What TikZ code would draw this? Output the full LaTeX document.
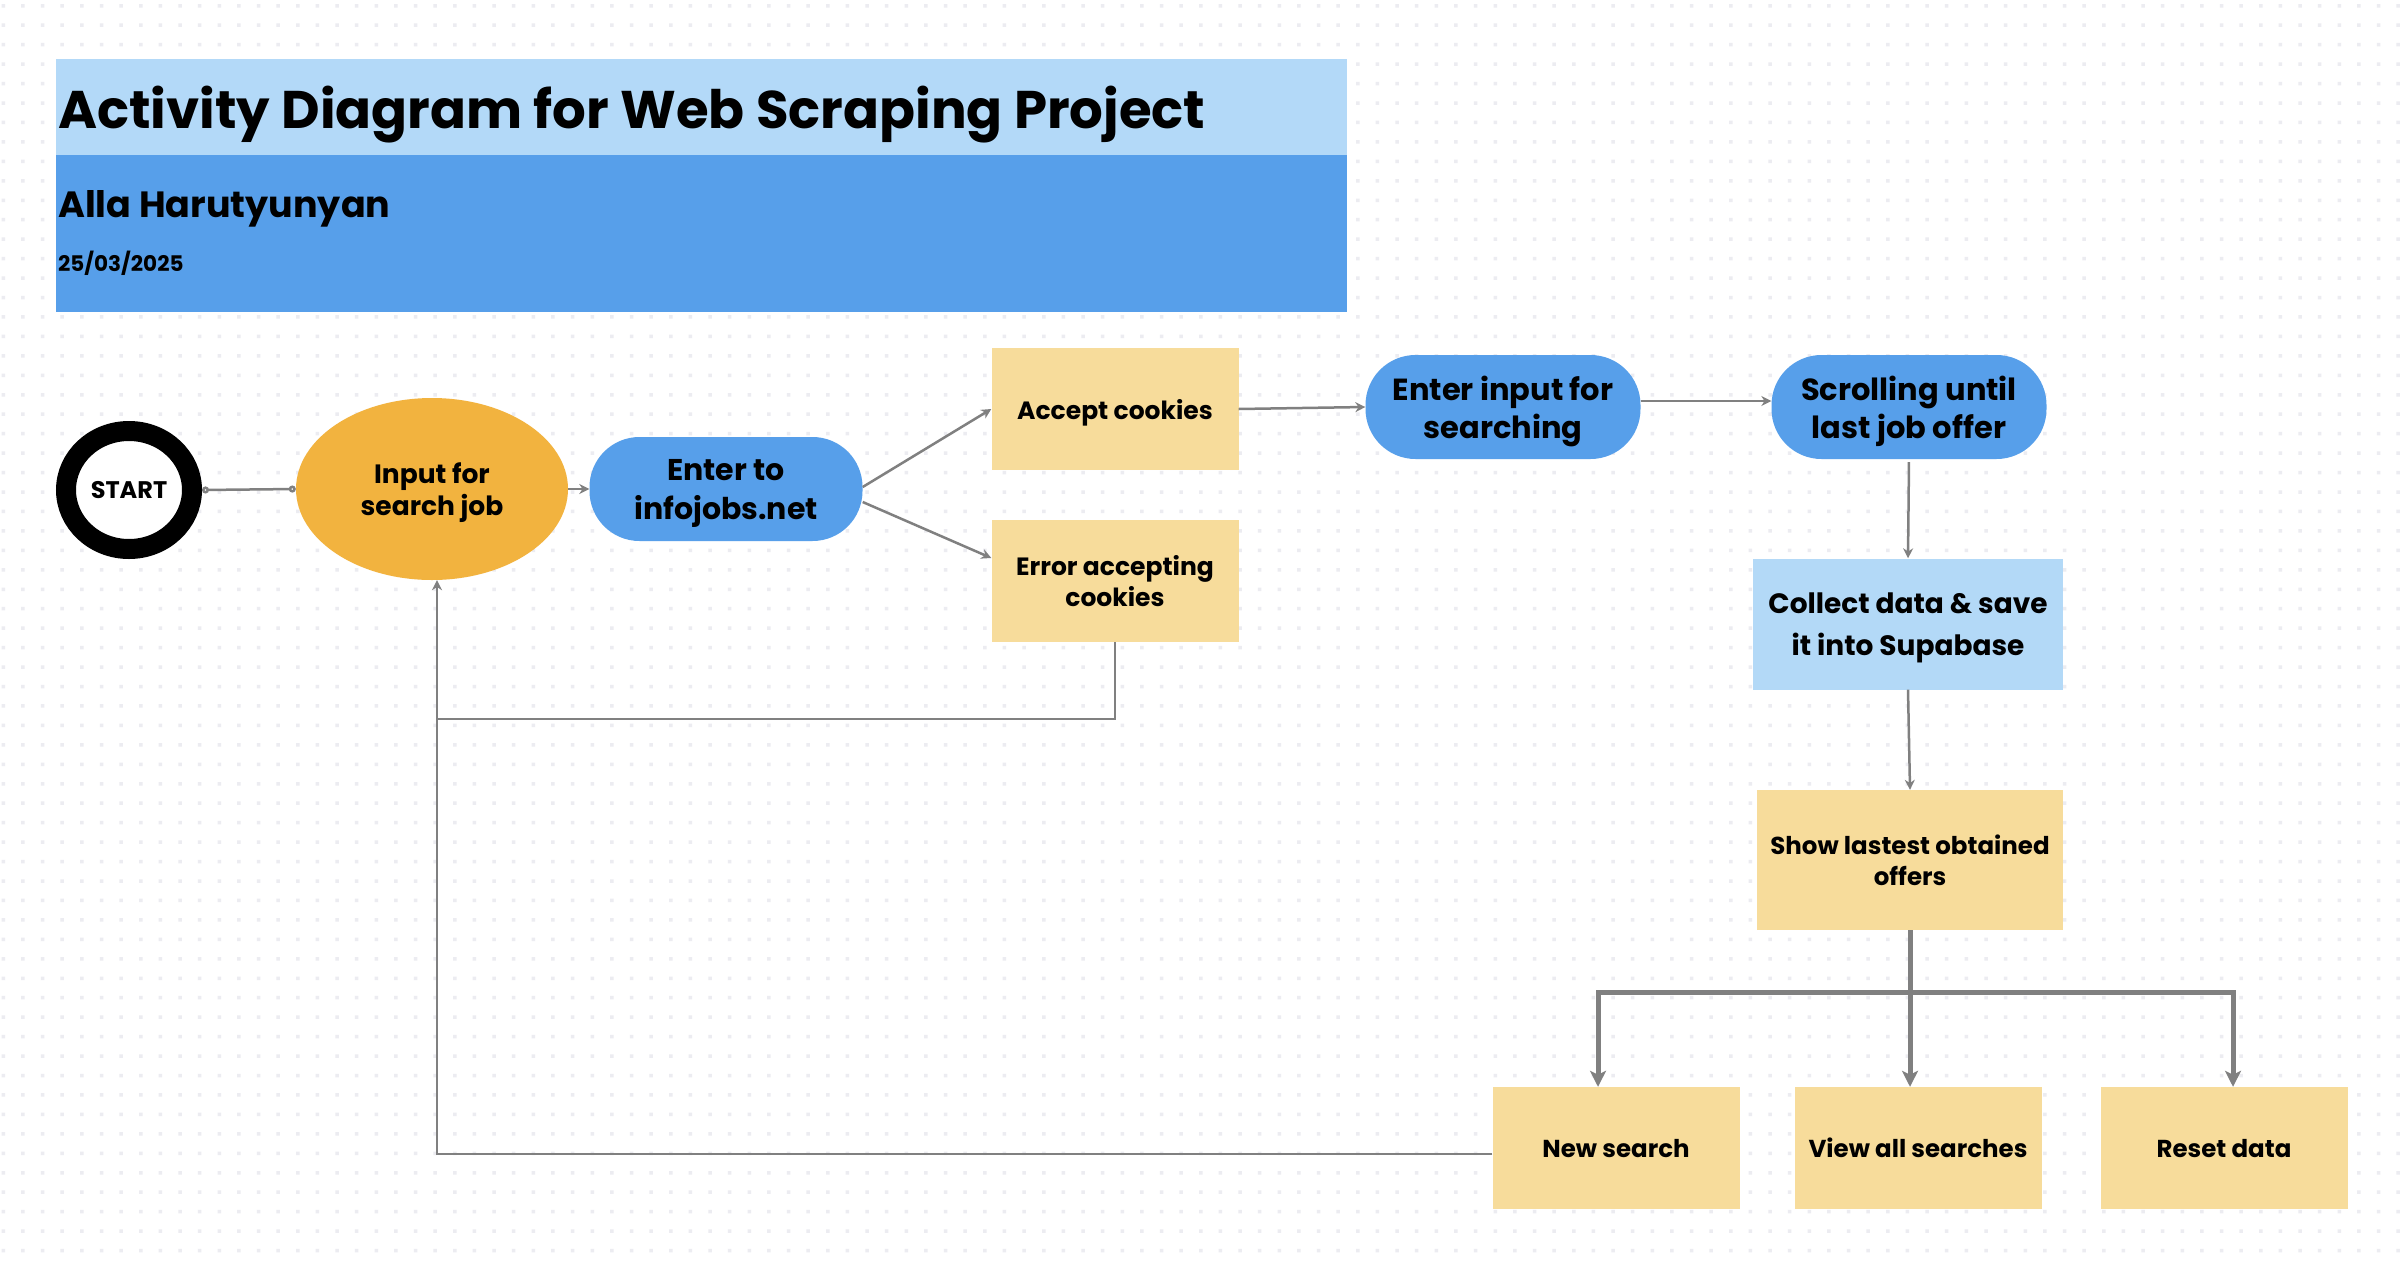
\documentclass[tikz,border=0pt]{standalone}
\usepackage{fontspec}
\setmainfont{Poppins}
\usetikzlibrary{arrows.meta,shapes.geometric,calc}
\definecolor{bandlight}{HTML}{B3D9F8}
\definecolor{banddark}{HTML}{579FEA}
\definecolor{pillblue}{HTML}{579FEA}
\definecolor{orangefill}{HTML}{F2B33F}
\definecolor{stickyyellow}{HTML}{F7DC9B}
\definecolor{stickyblue}{HTML}{B3D9F7}
\definecolor{linegray}{HTML}{808080}
\definecolor{dotgray}{HTML}{ECECF1}
\tikzset{
  txt/.style={text=black, align=center, inner sep=0pt},
  ctxt/.style={txt, text depth=0pt},
  pill/.style={ctxt, fill=pillblue, rounded corners=50pt, minimum height=104pt},
  sticky/.style={ctxt, fill=stickyyellow, minimum width=247pt, minimum height=122pt},
  conn/.style={draw=linegray, line width=2.5pt},
  forkline/.style={draw=linegray, line width=5pt},
  tip/.style={-{Stealth[length=10pt,width=10pt]}},
  bigtip/.style={-{Stealth[length=16pt,width=16pt,inset=4pt]}},
}
\begin{document}
\begin{tikzpicture}[x=1pt,y=-1pt]
\useasboundingbox (0,0) rectangle (2400,1266);
\fill[white] (0,0) rectangle (2400,1266);
% dot grid
\foreach \j in {0,...,65} {
  \fill[dotgray] \foreach \i in {0,...,122} { ({1.6+19.63*\i},{4+19.45*\j}) rectangle ++(3.5,3.5) };
}

% header
\fill[bandlight] (56,59) rectangle (1347,155);
\fill[banddark] (56,155) rectangle (1347,312);
\node[txt, anchor=base west, font=\bfseries\fontsize{53}{60}\selectfont] (title) at (58,128) {Activity Diagram for Web Scraping Project};
\node[txt, anchor=base west, font=\bfseries\fontsize{36.5}{40}\selectfont] (author) at (58,217) {Alla Harutyunyan};
\node[txt, anchor=base west, font=\bfseries\fontsize{21.5}{24}\selectfont] (date) at (58,271) {25/03/2025};

% nodes
\node[ellipse, draw=black, line width=20pt, fill=white, minimum width=126pt, minimum height=118pt, inner sep=0pt, text depth=0pt, font=\bfseries\fontsize{24}{28}\selectfont] (start) at (129,490) {START};
\node[ellipse, ctxt, fill=orangefill, minimum width=272pt, minimum height=182pt, font=\bfseries\fontsize{26.5}{32}\selectfont] (input) at (432,489) {Input for\\search job};
\node[pill, minimum width=273pt, font=\bfseries\fontsize{30}{39}\selectfont] (enter) at (726,489) {Enter to\\infojobs.net};
\node[sticky, font=\bfseries\fontsize{25}{31}\selectfont] (accept) at (1115,409) {Accept cookies};
\node[sticky, font=\bfseries\fontsize{25}{31}\selectfont] (error) at (1115,581) {Error accepting\\cookies};
\node[pill, minimum width=275pt, font=\bfseries\fontsize{30.5}{38}\selectfont] (einput) at (1503,407) {Enter input for\\searching};
\node[pill, minimum width=275pt, font=\bfseries\fontsize{30.5}{38}\selectfont] (scroll) at (1909,407) {Scrolling until\\last job offer};
\node[ctxt, fill=stickyblue, minimum width=310pt, minimum height=131pt, font=\bfseries\fontsize{28}{42}\selectfont] (collect) at (1908,624) {Collect data \& save\\it into Supabase};
\node[sticky, minimum width=306pt, minimum height=140pt, font=\bfseries\fontsize{24.5}{31}\selectfont] (show) at (1910,860) {Show lastest obtained\\offers};
\node[sticky, font=\bfseries\fontsize{24.5}{31}\selectfont] (newsearch) at (1616,1148) {New search};
\node[sticky, font=\bfseries\fontsize{24.5}{31}\selectfont] (viewall) at (1918,1148) {View all searches};
\node[sticky, font=\bfseries\fontsize{24.5}{31}\selectfont] (reset) at (2224,1148) {Reset data};

\coordinate (loop) at (437,719);
\coordinate (fork) at (show.south |- 0,992);

% connectors
\draw[conn, {Circle[open,fill=white,length=7pt,width=7pt]}-{Circle[open,fill=white,length=7pt,width=7pt]}] (start.east) -- (input.west);
\draw[conn, tip] (input.east) -- (enter.west);
\draw[conn, tip] ([yshift=2pt]enter.east) -- (accept.west);
\draw[conn, tip] ([yshift=-13pt]enter.east) -- ([yshift=23pt]error.west);
\draw[conn, tip] (accept.east) -- (einput.west);
\draw[conn, tip] ([yshift=6pt]einput.east) -- ([yshift=6pt]scroll.west);
\draw[conn, tip, shorten <=3pt] (scroll.south) -- (collect.north);
\draw[conn, tip] (collect.south) -- (show.north);
\draw[forkline, bigtip] (show.south) -- (fork) -- (fork |- viewall.north);
\draw[forkline, bigtip] (fork) -| ([xshift=-18pt]newsearch.north);
\draw[forkline, bigtip] (fork) -| ([xshift=9pt]reset.north);
\draw[conn] (error.south) |- (loop);
\draw[conn, tip] (loop) -- (loop |- input.south);
\draw[conn] ([yshift=-6pt]newsearch.west) -| (loop);
\end{tikzpicture}
\end{document}
